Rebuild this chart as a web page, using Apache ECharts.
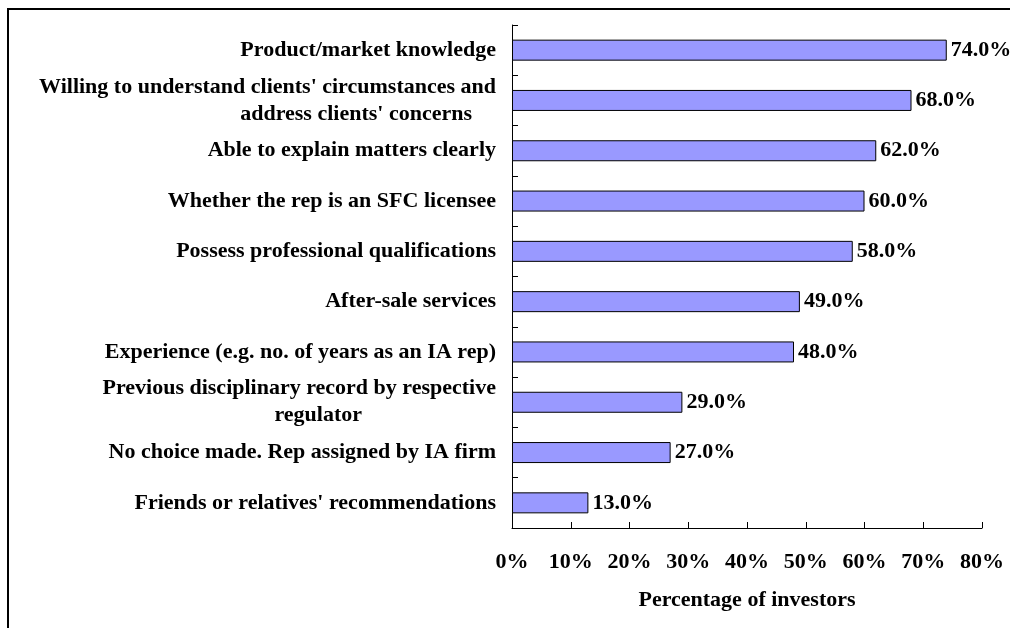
<!DOCTYPE html>
<html>
<head>
<meta charset="UTF-8">
<title>Percentage of investors</title>
<script src="https://cdn.jsdelivr.net/npm/echarts@6/dist/echarts.min.js"></script>
<style>
html,body{margin:0;padding:0;background:#fff;}
#main{width:1010px;height:628px;}
</style>
</head>
<body>
<div id="main"></div>
<script type="text/javascript">
// categories from top to bottom
var categories = [
	"Product/market knowledge",
	"Willing to understand clients' circumstances and\naddress clients' concerns",
	"Able to explain matters clearly",
	"Whether the rep is an SFC licensee",
	"Possess professional qualifications",
	"After-sale services",
	"Experience (e.g. no. of years as an IA rep)",
	"Previous disciplinary record by respective\nregulator",
	"No choice made. Rep assigned by IA firm",
	"Friends or relatives' recommendations"
];
var values = [74.0, 68.0, 62.0, 60.0, 58.0, 49.0, 48.0, 29.0, 27.0, 13.0];
var xTicks = [0, 10, 20, 30, 40, 50, 60, 70, 80];

var serif = '"Liberation Serif", "Times New Roman", serif';
var fs = 22;
// right padding of the 2nd line of wrapped labels
var secondLinePad = { "address clients' concerns": 24, "regulator": 134 };

function lineStyle(pad) {
	return { fontFamily: serif, fontWeight: 'bold', fontSize: fs, color: '#000', lineHeight: 27, padding: [0, pad, 0, 0] };
}
var richStyles = { a: lineStyle(0) };
for (var k in secondLinePad) richStyles['p' + secondLinePad[k]] = lineStyle(secondLinePad[k]);

var myChart = echarts.init(document.getElementById('main'));
myChart.setOption({
	animation: false,
	grid: { left: 512, right: 28, top: 25, bottom: 100 },
	graphic: [{
		type: 'rect',
		shape: { x: 8, y: 9, width: 1100, height: 700 },
		style: { fill: 'none', stroke: '#000', lineWidth: 2 }
	}],
	xAxis: {
		type: 'value',
		min: xTicks[0],
		max: xTicks[xTicks.length - 1],
		interval: 10,
		splitLine: { show: false },
		axisLine: { show: true, lineStyle: { color: '#000', width: 1 } },
		axisTick: { show: true, inside: true, length: 6, lineStyle: { color: '#000' } },
		axisLabel: {
			formatter: '{value}%', margin: 23, color: '#000',
			fontFamily: serif, fontWeight: 'bold', fontSize: fs
		},
		name: 'Percentage of investors',
		nameLocation: 'middle',
		nameGap: 61,
		nameTextStyle: { color: '#000', fontFamily: serif, fontWeight: 'bold', fontSize: fs }
	},
	yAxis: {
		type: 'category',
		inverse: true,
		data: categories,
		axisLine: { show: true, lineStyle: { color: '#000', width: 1 } },
		axisTick: { show: true, inside: true, length: 6, lineStyle: { color: '#000' } },
		axisLabel: {
			margin: 16, color: '#000', fontFamily: serif, fontWeight: 'bold', fontSize: fs,
			lineHeight: 27, align: 'right',
			formatter: function (v) {
				var lines = v.split('\n');
				if (lines.length == 1) return '{a|' + lines[0] + '}';
				var pad = secondLinePad[lines[1]] || 0;
				return '{a|' + lines[0] + '}\n{p' + pad + '|' + lines[1] + '}';
			},
			rich: richStyles
		}
	},
	series: [{
		name: 'Percentage of investors',
		type: 'bar',
		data: values,
		barWidth: 21,
		itemStyle: { color: '#9999FF', borderColor: '#000', borderWidth: 1 },
		label: {
			show: true, position: 'right', distance: 4,
			formatter: function (p) { return p.value.toFixed(1) + '%'; },
			color: '#000', fontFamily: serif, fontWeight: 'bold', fontSize: fs
		}
	}]
});
</script>
</body>
</html>
